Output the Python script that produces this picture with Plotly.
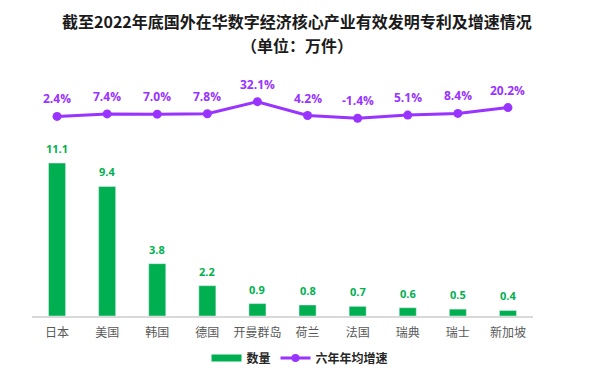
import plotly.graph_objects as go

categories = ["日本", "美国", "韩国", "德国", "开曼群岛", "荷兰", "法国", "瑞典", "瑞士", "新加坡"]
counts = [11.1, 9.4, 3.8, 2.2, 0.9, 0.8, 0.7, 0.6, 0.5, 0.4]
growth = [2.4, 7.4, 7.0, 7.8, 32.1, 4.2, -1.4, 5.1, 8.4, 20.2]
count_labels = [f"{v:.1f}" for v in counts]
growth_labels = [f"{v:.1f}%" for v in growth]

title_line1 = "截至2022年底国外在华数字经济核心产业有效发明专利及增速情况"
title_line2 = "（单位：万件）"

GREEN = "#00B050"
PURPLE = "#9933FF"
CJK = "Noto Sans CJK SC"
NUM = "Open Sans"

# plot area geometry (px)
W, H = 593, 376
ML, MR, MT, MB = 32, 60, 95, 60
PH = H - MT - MB
PW = W - ML - MR


def py(ypx):
    return (H - MB - ypx) / PH


def px(xpx):
    return (xpx - ML) / PW


fig = go.Figure()

fig.add_trace(go.Bar(
    x=categories, y=counts, name="数量", marker_color=GREEN,
    width=0.34, showlegend=False, hoverinfo="skip",
))
fig.add_trace(go.Scatter(
    x=categories, y=growth, name="六年年均增速", yaxis="y2",
    mode="lines+markers", line=dict(color=PURPLE, width=3),
    marker=dict(color=PURPLE, size=9), showlegend=False,
))
# legend-only entries
fig.add_trace(go.Scatter(
    x=[None], y=[None], name="数量", mode="lines",
    line=dict(color=GREEN, width=7), showlegend=True,
))
fig.add_trace(go.Scatter(
    x=[None], y=[None], name="六年年均增速", mode="lines+markers",
    line=dict(color=PURPLE, width=3), marker=dict(color=PURPLE, size=8),
    showlegend=True,
))

annotations = []
for c, v, t in zip(categories, counts, count_labels):
    annotations.append(dict(
        x=c, y=v, xref="x", yref="y", text=t, showarrow=False,
        yanchor="bottom", yshift=5,
        font=dict(family=NUM, size=11, color=GREEN, weight="bold"),
    ))
for c, v, t in zip(categories, growth, growth_labels):
    annotations.append(dict(
        x=c, y=v, xref="x", yref="y2", text=t, showarrow=False,
        yanchor="bottom", yshift=7,
        font=dict(family=NUM, size=12, color=PURPLE, weight="bold"),
    ))
annotations.append(dict(
    x=px(296.5), y=py(21), xref="paper", yref="paper", text=title_line1,
    showarrow=False, xanchor="center", yanchor="middle",
    font=dict(family=CJK, size=16, color="#1a1a1a", weight="bold"),
))
annotations.append(dict(
    x=px(296.5), y=py(45), xref="paper", yref="paper", text=title_line2,
    showarrow=False, xanchor="center", yanchor="middle",
    font=dict(family=CJK, size=16, color="#1a1a1a", weight="bold"),
))

fig.update_layout(
    width=W, height=H,
    margin=dict(l=ML, r=MR, t=MT, b=MB, autoexpand=False),
    paper_bgcolor="white", plot_bgcolor="white",
    xaxis=dict(
        range=[-0.5, len(categories) - 0.5],
        showline=True, linecolor="#D9D9D9", linewidth=1.5,
        ticks="", tickfont=dict(family=CJK, size=12, color="#595959"),
        ticklabelstandoff=5,
        showgrid=False, zeroline=False, automargin=False,
    ),
    yaxis=dict(range=[0, 16.04], visible=False, showgrid=False),
    yaxis2=dict(range=[-400.4, 45.6], overlaying="y", side="right",
                visible=False, showgrid=False),
    legend=dict(
        orientation="h", x=px(300), y=py(358), xanchor="center", yanchor="middle",
        font=dict(family=CJK, size=12, color="#262626", weight="bold"),
        itemwidth=30, tracegroupgap=0,
    ),
    annotations=annotations,
    showlegend=True,
)

fig.write_html(
    "out.html",
    config={"displayModeBar": False},
    post_script="document.body.style.margin='0';document.body.style.overflow='hidden';",
)
